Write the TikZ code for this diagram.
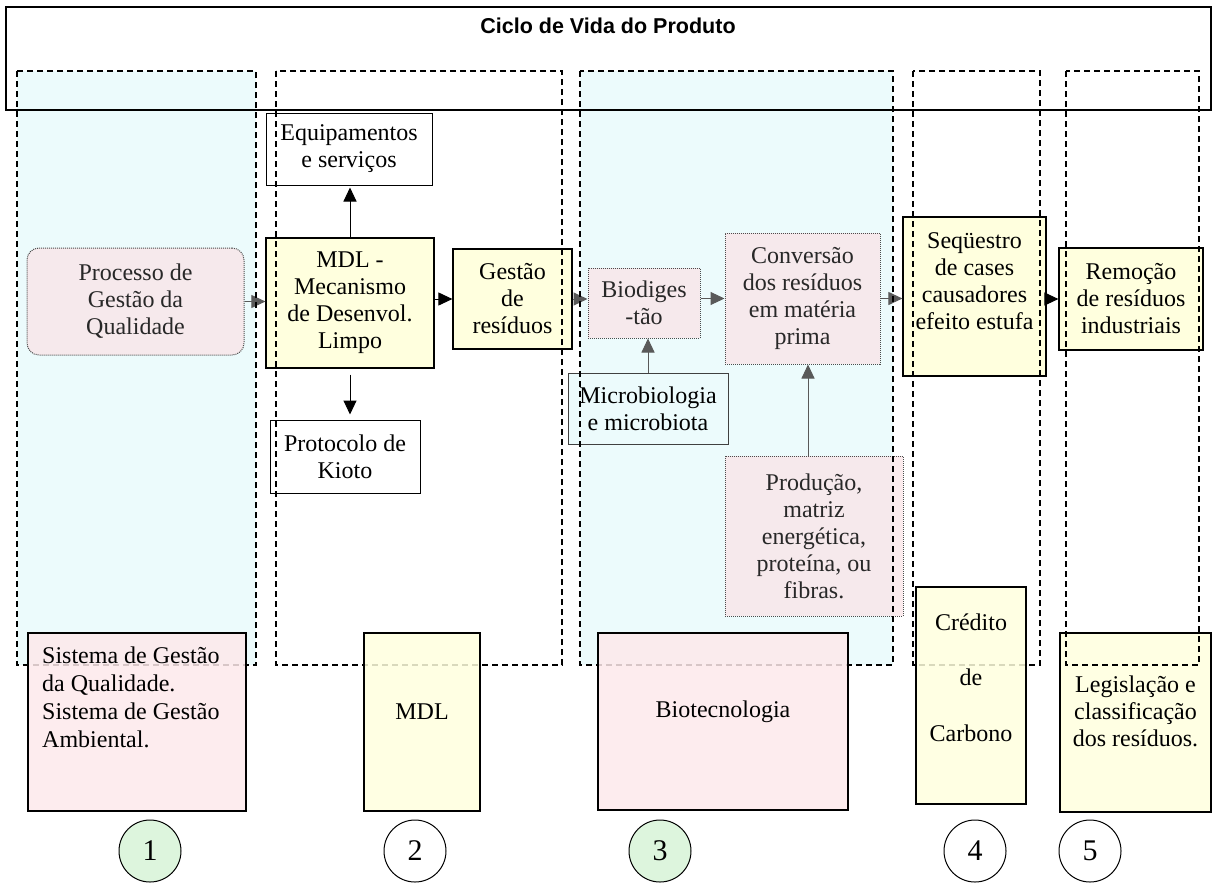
\documentclass[tikz,border=0pt]{standalone}
\usepackage{fontspec}
\setmainfont{Liberation Serif}
\newfontfamily\titlefont{Liberation Sans}
\usetikzlibrary{arrows.meta}

\definecolor{colcyan}{RGB}{236,251,252}
\definecolor{flowpink}{RGB}{250,228,231}
\definecolor{boxpink}{RGB}{253,233,235}
\definecolor{boxyellow}{RGB}{255,255,222}
\definecolor{circgreen}{RGB}{221,245,221}
\definecolor{txtgray}{RGB}{40,40,40}

\tikzset{
  base/.style={font=\fontsize{24}{27}\selectfont, align=center, inner sep=0pt},
  plainbox/.style={base, draw, line width=1pt, fill=white},
  yellowbox/.style={base, draw, line width=1.2pt, fill=boxyellow},
  pinkflow/.style={base, draw=black!70, densely dotted, line width=1pt,
    fill=flowpink, fill opacity=0.75, text opacity=1, text=txtgray},
  cyanbox/.style={base, draw=black!75, line width=1pt, fill=colcyan},
  bottompink/.style={draw, line width=1.3pt, fill=boxpink, fill opacity=0.85},
  bottomyellow/.style={draw, line width=1.3pt, fill=boxyellow, fill opacity=0.85},
  column/.style={line width=1.4pt, dash pattern=on 6pt off 4pt},
  flow/.style={-{Triangle[length=14pt,width=13pt]}, line width=1pt},
  softflow/.style={flow, draw=black!65, fill=black!65},
  numcirc/.style={circle, draw, line width=1pt, minimum size=62pt, inner sep=0pt,
    font=\fontsize{30}{34}\selectfont},
}

\begin{document}
\begin{tikzpicture}[x=1pt,y=-1pt]
\useasboundingbox (0,0) rectangle (1215,884);

% tinted backgrounds of the first and third stages
\fill[colcyan] (17,71) rectangle (256,665);
\fill[colcyan] (580,71) rectangle (893,665);

% life-cycle frame and heading
\draw[line width=2.2pt] (6,7) rectangle (1211,110);
\node[font=\titlefont\bfseries\fontsize{21.5}{25}\selectfont] (title) at (608,26) {Ciclo de Vida do Produto};

% process chain
\node[pinkflow, rounded corners=12pt, minimum width=217pt, minimum height=107pt] (proc) at (135.5,301.5) {Processo de\\Gestão da\\Qualidade};
\node[yellowbox, minimum width=168pt, minimum height=130pt] (mdl) at (350,303) {MDL -\\Mecanismo\\de Desenvol.\\Limpo};
\node[plainbox, minimum width=166pt, minimum height=72pt] (equip) at (349,149) {Equipamentos\\e serviços};
\node[plainbox, minimum width=150pt, minimum height=73pt] (kioto) at (345,456.5) {Protocolo de\\Kioto};
\node[yellowbox, minimum width=119pt, minimum height=100pt] (gest) at (512.5,299) {Gestão\\de\\resíduos};
\node[pinkflow, minimum width=112pt, minimum height=70pt] (bio) at (644,303) {Biodiges\\-tão};
\node[cyanbox, minimum width=160pt, minimum height=71pt] (micro) at (648,408.5) {Microbiologia\\e microbiota};
\node[pinkflow, minimum width=155pt, minimum height=131pt] (conv) at (802.5,298.5) {Conversão\\dos resíduos\\em matéria\\prima};
\node[pinkflow, minimum width=178pt, minimum height=160pt] (prod) at (814,536) {Produção,\\matriz\\energética,\\proteína, ou\\fibras.};
\node[yellowbox, minimum width=143pt, minimum height=159pt] (seq) at (974.5,296.5) {};
\node[base] (seqtext) at (974.5,281) {Seqüestro\\de cases\\causadores\\efeito estufa};
\node[yellowbox, minimum width=144pt, minimum height=102pt] (rem) at (1131,299) {Remoção\\de resíduos\\industriais};

% connectors
\draw[softflow] (proc.east) -- (proc.east -| mdl.west);
\draw[flow] (gest.west -| mdl.east) -- (gest.west);
\draw[softflow] (gest.east) -- (gest.east -| bio.west);
\draw[softflow] (conv.west -| bio.east) -- (conv.west);
\draw[softflow] (conv.east) -- (conv.east -| seq.west);
\draw[flow] (rem.west -| seq.east) -- (rem.west);
\draw[flow, shorten >=2pt] (mdl.north) -- (mdl.north |- equip.south);
\draw[flow, shorten <=6pt, shorten >=5pt] (mdl.south) -- (mdl.south |- kioto.north);
\draw[softflow] (micro.north) -- (micro.north |- bio.south);
\coordinate (convin) at ([xshift=5.5pt]conv.south);
\draw[softflow] (convin |- prod.north) -- (convin);

% stage outlines
\draw[column] (17,71) rectangle (256,665);
\draw[column] (276,71) rectangle (562,665);
\draw[column] (580,71) rectangle (893,665);
\draw[column] (913,71) rectangle (1040,665);

% knowledge areas under each stage
\node[bottompink, minimum width=218pt, minimum height=178pt] (b1) at (137,722) {};
\node[base, anchor=west, align=left, font=\fontsize{24}{28}\selectfont] (b1text) at (42,697) {Sistema de Gestão\\da Qualidade.\\Sistema de Gestão\\Ambiental.};
\node[bottomyellow, minimum width=116pt, minimum height=178pt] (b2) at (422,722) {};
\node[base] (b2text) at (422,712) {MDL};
\node[bottompink, minimum width=250pt, minimum height=177pt] (b3) at (723,721.5) {};
\node[base] (b3text) at (723,712) {Biotecnologia};
\node[bottomyellow, minimum width=110pt, minimum height=217pt] (b4) at (971,695.5) {};
\node[base, font=\fontsize{24}{55.5}\selectfont] (b4text) at (971,677.5) {Crédito\\de\\Carbono};
\node[bottomyellow, minimum width=151pt, minimum height=179pt] (b5) at (1135.5,722.5) {};
\node[base] (b5text) at (1135.5,711.5) {Legislação e\\classificação\\dos resíduos.};

\draw[column] (1066,71) rectangle (1199,665);

% stage numbers
\node[numcirc, fill=circgreen] (n1) at (150,851) {1};
\node[numcirc, fill=white] (n2) at (415,851) {2};
\node[numcirc, fill=circgreen] (n3) at (660,851) {3};
\node[numcirc, fill=white] (n4) at (975,851) {4};
\node[numcirc, fill=white] (n5) at (1090,851) {5};
\end{tikzpicture}
\end{document}
